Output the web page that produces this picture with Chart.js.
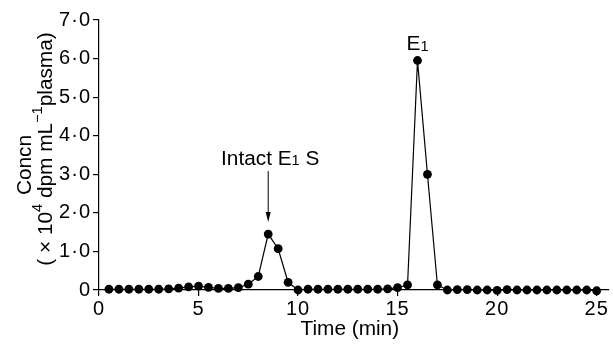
<!DOCTYPE html>
<html><head><meta charset="utf-8">
<script src="https://cdn.jsdelivr.net/npm/chart.js@4"></script>
<style>html,body{margin:0;padding:0;background:#fff}#wrap{width:613px;height:345px;position:relative}</style>
</head><body><div id="wrap"><canvas id="c" width="613" height="345"></canvas></div>
<script>
const times = [0.5,1,1.5,2,2.5,3,3.5,4,4.5,5,5.5,6,6.5,7,7.5,8,8.5,9,9.5,10,10.5,11,11.5,12,12.5,13,13.5,14,14.5,15,15.5,16,16.5,17,17.5,18,18.5,19,19.5,20,20.5,21,21.5,22,22.5,23,23.5,24,24.5,25];
const concn = [0.02,0.02,0.02,0.02,0.02,0.02,0.03,0.05,0.08,0.10,0.07,0.04,0.04,0.06,0.15,0.35,1.45,1.07,0.20,0.00,0.02,0.02,0.02,0.02,0.02,0.02,0.02,0.02,0.03,0.06,0.13,5.95,3.00,0.13,0.00,0.01,0.01,0.00,0.00,-0.01,0.01,0.00,0.00,0.00,0.00,0.00,0.00,0.00,0.00,-0.02];
const xTickValues = [0,5,10,15,20,25];
const yTickLabels = ['0','1·0','2·0','3·0','4·0','5·0','6·0','7·0'];
const xTitle = 'Time (min)';
const yTitleLine1 = 'Concn';
const yTitleLine2 = [['( × 10',0],['4',1],[' dpm mL',0],['−1',1],['plasma)',0]];
const peak1Label = [['Intact E',0],['1',-1],[' S',0]];
const peak1At = {x:8.5, y:1.45};
const peak2Label = [['E',0],['1',-1]];
const peak2At = {x:16, y:5.95};

const FONT = '"Liberation Sans", Arial, sans-serif';
const SX = 1.04;
const FS = 20;

function drawRuns(ctx, runs, size, cx, cy, rot) {
  ctx.save();
  ctx.translate(cx, cy);
  if (rot) ctx.rotate(rot);
  ctx.scale(SX, 1);
  ctx.fillStyle = '#000';
  ctx.textBaseline = 'middle';
  ctx.textAlign = 'left';
  const items = runs.map(([t, k]) => {
    const s = k === 0 ? size : Math.round(size * 0.72);
    ctx.font = s + 'px ' + FONT;
    return {t, s, k, w: ctx.measureText(t).width};
  });
  const total = items.reduce((a, b) => a + b.w, 0);
  let x = -total / 2;
  for (const it of items) {
    ctx.font = it.s + 'px ' + FONT;
    const dy = it.k === 1 ? -size * 0.38 : (it.k === -1 ? size * 0.12 : 0);
    ctx.fillText(it.t, x, dy);
    x += it.w;
  }
  ctx.restore();
}

const textPlugin = {
  id: 'texts',
  beforeDraw(chart) { chart.ctx.letterSpacing = '1px'; },
  afterDraw(chart) {
    const ctx = chart.ctx;
    ctx.save();
    ctx.letterSpacing = '0px';
    const xs = chart.scales.x, ys = chart.scales.y;
    drawRuns(ctx, [[xTitle,0]], FS, xs.getPixelForValue(12.6), 329, 0);
    drawRuns(ctx, [[yTitleLine1,0]], FS, 25, 165, -Math.PI/2);
    drawRuns(ctx, yTitleLine2, FS, 46, 149, -Math.PI/2);
    const px = xs.getPixelForValue(peak1At.x), py = ys.getPixelForValue(peak1At.y);
    drawRuns(ctx, peak1Label, FS, px + 2, py - 75, 0);
    ctx.strokeStyle = '#000'; ctx.fillStyle = '#000'; ctx.lineWidth = 1;
    ctx.beginPath(); ctx.moveTo(px, py - 63); ctx.lineTo(px, py - 20); ctx.stroke();
    ctx.beginPath(); ctx.moveTo(px - 2.5, py - 22); ctx.lineTo(px + 2.5, py - 22); ctx.lineTo(px, py - 12); ctx.closePath(); ctx.fill();
    const qx = xs.getPixelForValue(peak2At.x), qy = ys.getPixelForValue(peak2At.y);
    drawRuns(ctx, peak2Label, FS, qx, qy - 16, 0);
    ctx.restore();
  }
};

new Chart(document.getElementById('c'), {
  type: 'line',
  data: {
    datasets: [{
      data: times.map((t, i) => ({x: t, y: concn[i]})),
      borderColor: '#000', backgroundColor: '#000', borderWidth: 1.2,
      pointRadius: 4.4, pointBackgroundColor: '#000', pointBorderWidth: 0,
      tension: 0, clip: false
    }]
  },
  options: {
    responsive: false, animation: false, devicePixelRatio: 1,
    layout: {padding: {top: 20, right: 0, left: 0, bottom: 0}},
    plugins: {legend: {display: false}, tooltip: {enabled: false}},
    scales: {
      x: {
        type: 'linear', min: 0, max: 25.6,
        afterBuildTicks: s => { s.ticks = xTickValues.map(v => ({value: v})); },
        afterFit: s => { s.height = 55; },
        border: {display: true, color: '#000', width: 1.2},
        grid: {display: true, drawOnChartArea: false, drawTicks: true, tickLength: 6, color: '#000', lineWidth: 1.2},
        ticks: {color: '#000', font: {family: FONT, size: FS}, padding: 1, maxRotation: 0, autoSkip: false,
          callback: v => String(v)}
      },
      y: {
        min: 0, max: 7,
        afterBuildTicks: s => { s.ticks = yTickLabels.map((l, i) => ({value: i})); },
        afterFit: s => { s.width = 99; },
        border: {display: true, color: '#000', width: 1.2},
        grid: {display: true, drawOnChartArea: false, drawTicks: true, tickLength: 6, color: '#000', lineWidth: 1.2},
        ticks: {color: '#000', font: {family: FONT, size: FS}, padding: 2,
          callback: (v) => yTickLabels[Math.round(v)]}
      }
    }
  },
  plugins: [textPlugin]
});
</script></body></html>
